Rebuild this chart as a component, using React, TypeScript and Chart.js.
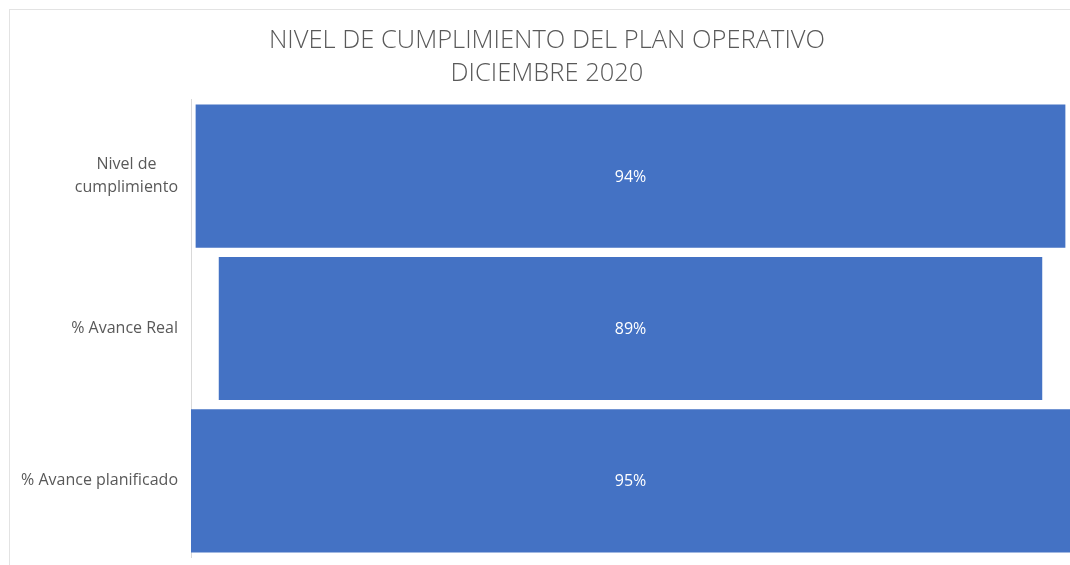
import React, { useEffect, useRef } from "react";
import { Chart, registerables } from "chart.js";

Chart.register(...registerables);

const titleLines = ["NIVEL DE CUMPLIMIENTO DEL PLAN OPERATIVO", "DICIEMBRE 2020"];
const categories: string[][] = [["Nivel de", "cumplimiento"], ["% Avance Real"], ["% Avance planificado"]];
const values = [94, 89, 95];
const maxValue = 95;

const TEXT_COLOR = "#595959";
const BAR_COLOR = "#4472C4";
const FONT = "'Open Sans', 'Noto Sans', sans-serif";

const labelsPlugin = {
  id: "funnelLabels",
  afterDatasetsDraw(chart: any) {
    const ctx = chart.ctx;
    const yScale = chart.scales.y;
    ctx.save();
    ctx.font = `16px ${FONT}`;
    ctx.fillStyle = TEXT_COLOR;
    ctx.textBaseline = "middle";
    ctx.textAlign = "center";
    const rightEdge = chart.chartArea.left - 13;
    const lineH = 23;
    categories.forEach((lines, i) => {
      const cy = yScale.getPixelForValue(i);
      const maxW = Math.max(...lines.map((l) => ctx.measureText(l).width));
      const cx = rightEdge - maxW / 2;
      const startY = cy - ((lines.length - 1) * lineH) / 2;
      lines.forEach((l, j) => ctx.fillText(l, cx, startY + j * lineH));
    });
    const meta = chart.getDatasetMeta(0);
    ctx.font = `16px ${FONT}`;
    ctx.fillStyle = "#FFFFFF";
    meta.data.forEach((bar: any, i: number) => {
      const p = bar.getCenterPoint();
      ctx.fillText(values[i] + "%", p.x, p.y + 1);
    });
    ctx.restore();
  },
};

export default function App() {
  const ref = useRef<HTMLCanvasElement>(null);
  useEffect(() => {
    if (!ref.current) return;
    const chart = new Chart(ref.current, {
      type: "bar",
      data: {
        labels: categories.map((c) => c.join(" ")),
        datasets: [
          {
            data: values.map((v) => [-v / 2, v / 2]) as any,
            backgroundColor: BAR_COLOR,
            borderWidth: 0,
            barPercentage: 0.94,
            categoryPercentage: 1,
          },
        ],
      },
      options: {
        indexAxis: "y",
        animation: false,
        responsive: false,
        layout: { padding: { left: 24, right: 0, top: 0, bottom: 8 } },
        plugins: {
          legend: { display: false },
          tooltip: { enabled: false },
          title: {
            display: true,
            text: titleLines,
            color: TEXT_COLOR,
            font: { family: FONT, size: 25.5, weight: "300" as any, lineHeight: 1.294 },
            padding: { top: 24, bottom: 10 },
          },
        },
        scales: {
          x: { display: false, min: -maxValue / 2, max: maxValue / 2 },
          y: {
            grid: { display: false },
            border: { display: true, color: "#D9D9D9", width: 1 },
            ticks: { display: false },
            afterFit(scale: any) {
              scale.width = 167;
            },
          },
        },
      },
      plugins: [labelsPlugin],
    });
    return () => chart.destroy();
  }, []);
  return (
    <div style={{ position: "fixed", left: 0, top: 0, width: 1070, height: 565, overflow: "hidden", background: "#fff" }}>
      <div style={{ position: "absolute", left: 9, top: 9, width: 1100, height: 600, borderLeft: "1px solid #E3E3E3", borderTop: "1px solid #E3E3E3" }} />
      <canvas ref={ref} width={1070} height={565} style={{ position: "absolute", left: 0, top: 0 }} />
    </div>
  );
}
